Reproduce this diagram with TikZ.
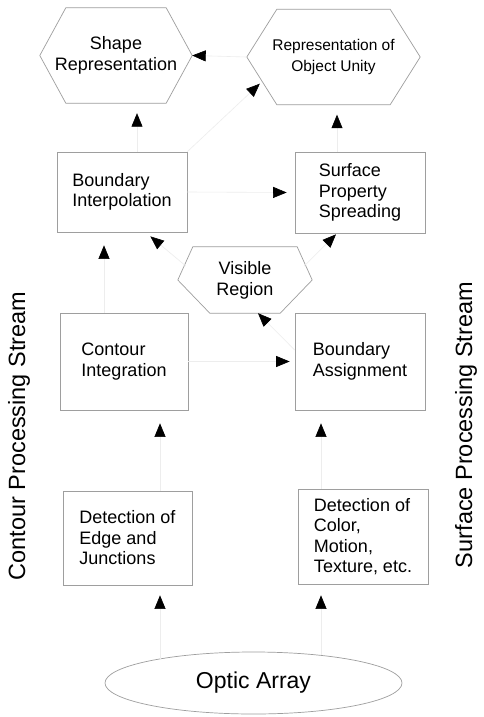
\documentclass[tikz,border=0pt]{standalone}
\usepackage{fontspec}
\setmainfont{Liberation Sans}
\usetikzlibrary{arrows.meta,shapes.geometric}
\definecolor{edgegray}{gray}{0.62}
\definecolor{linkgray}{gray}{0.93}
\newcommand\drawhex[3]{\draw[hexline] ([xshift=#2pt]#1.north west) -- ([xshift=-#2pt]#1.north east) -- (#1.east) -- ([xshift=-#3pt]#1.south east) -- ([xshift=#3pt]#1.south west) -- (#1.west) -- cycle;}
\begin{document}
\begin{tikzpicture}[x=1pt,y=-1pt,
  boxnode/.style={draw=edgegray, line width=0.7pt, rectangle, inner sep=0pt, align=left, font=\fontsize{18}{20.5}\selectfont},
  hexnode/.style={inner sep=0pt, align=center, font=\fontsize{18}{21}\selectfont},
  hexline/.style={draw=edgegray, line width=0.7pt, line join=miter},
  ovalnode/.style={draw=edgegray, line width=0.7pt, ellipse, inner sep=0pt, font=\fontsize{23}{26}\selectfont},
  sidelabel/.style={inner sep=0pt, font=\fontsize{23.5}{26}\selectfont},
  conn/.style={draw=linkgray, line width=0.6pt, -{Triangle[length=13.5pt,width=11pt,color=black,fill=black]}}
]
\useasboundingbox (0,0) rectangle (483,717);
\fill[white] (0,0) rectangle (483,717);

% hexagons
\node[hexnode, minimum width=152pt, minimum height=95pt] (sr) at (116,55.5) {Shape\\Representation};
\drawhex{sr}{26}{26}
\node[hexnode, minimum width=173pt, minimum height=95pt, font=\fontsize{15.5}{21.5}\selectfont] (ou) at (333.5,57) {Representation of\\Object Unity};
\drawhex{ou}{30}{30}
\node[hexnode, minimum width=134pt, minimum height=66pt] (vr) at (245,280) {Visible\\Region};
\drawhex{vr}{15}{32}

% boxes
\node[boxnode, minimum width=130pt, minimum height=80pt] (bi) at (122,192) {Boundary\\Interpolation};
\node[boxnode, minimum width=130pt, minimum height=81pt] (ss) at (360,192.5) {Surface\\Property\\Spreading};
\node[boxnode, minimum width=128pt, minimum height=97pt] (ci) at (124,361.5) {Contour\\Integration};
\node[boxnode, minimum width=130pt, minimum height=97pt] (ba) at (360,361.5) {Boundary\\Assignment};
\node[boxnode, minimum width=129pt, minimum height=94pt] (ej) at (127.5,538) {Detection of\\Edge and\\Junctions};
\node[boxnode, minimum width=130pt, minimum height=95pt] (dc) at (363,536.5) {Detection of\\Color,\\Motion,\\Texture, etc.};

% optic array
\node[ovalnode, minimum width=297pt, minimum height=62pt] (oa) at (253.5,683) {Optic Array};

% side labels
\node[sidelabel, rotate=90] (cps) at (19,436) {Contour Processing Stream};
\node[sidelabel, rotate=90] (sps) at (466,425) {Surface Processing Stream};

% connectors
\draw[conn] ([xshift=15pt]bi.north) -- ([xshift=21pt,yshift=-10pt]sr.south);
\draw[conn] (ou.west) -- (sr.east);
\draw[conn] (bi.north east) -- ([xshift=13pt,yshift=21pt]ou.south west);
\draw[conn] ([xshift=-23pt]ss.north) -- ([xshift=3.5pt,yshift=-10pt]ou.south);
\draw[conn] ([xshift=-20pt]ci.north) -- ([xshift=-18pt,yshift=-13pt]bi.south);
\draw[conn] ([xshift=8pt,yshift=14pt]vr.west) -- ([xshift=-37pt,yshift=-4pt]bi.south east);
\draw[conn] ([xshift=-8pt,yshift=14pt]vr.east) -- ([xshift=-24pt,yshift=-1pt]ss.south);
\draw[conn] (bi.east) -- ([xshift=-8pt]ss.west);
\draw[conn] ([yshift=11.5pt]ba.west) -- ([xshift=13pt]vr.south);
\draw[conn] (ci.east) -- ([xshift=-5pt]ba.west);
\draw[conn] ([xshift=32.5pt]ej.north) -- ([xshift=36pt,yshift=-13pt]ci.south);
\draw[conn] ([xshift=-42pt]dc.north) -- ([xshift=-39pt,yshift=-13pt]ba.south);
\draw[conn] ([xshift=-93.5pt,yshift=-7pt]oa.north) -- ([xshift=32.5pt,yshift=-10pt]ej.south);
\draw[conn] ([xshift=67.5pt,yshift=-3.5pt]oa.north) -- ([xshift=-42pt,yshift=-11pt]dc.south);
\end{tikzpicture}
\end{document}
